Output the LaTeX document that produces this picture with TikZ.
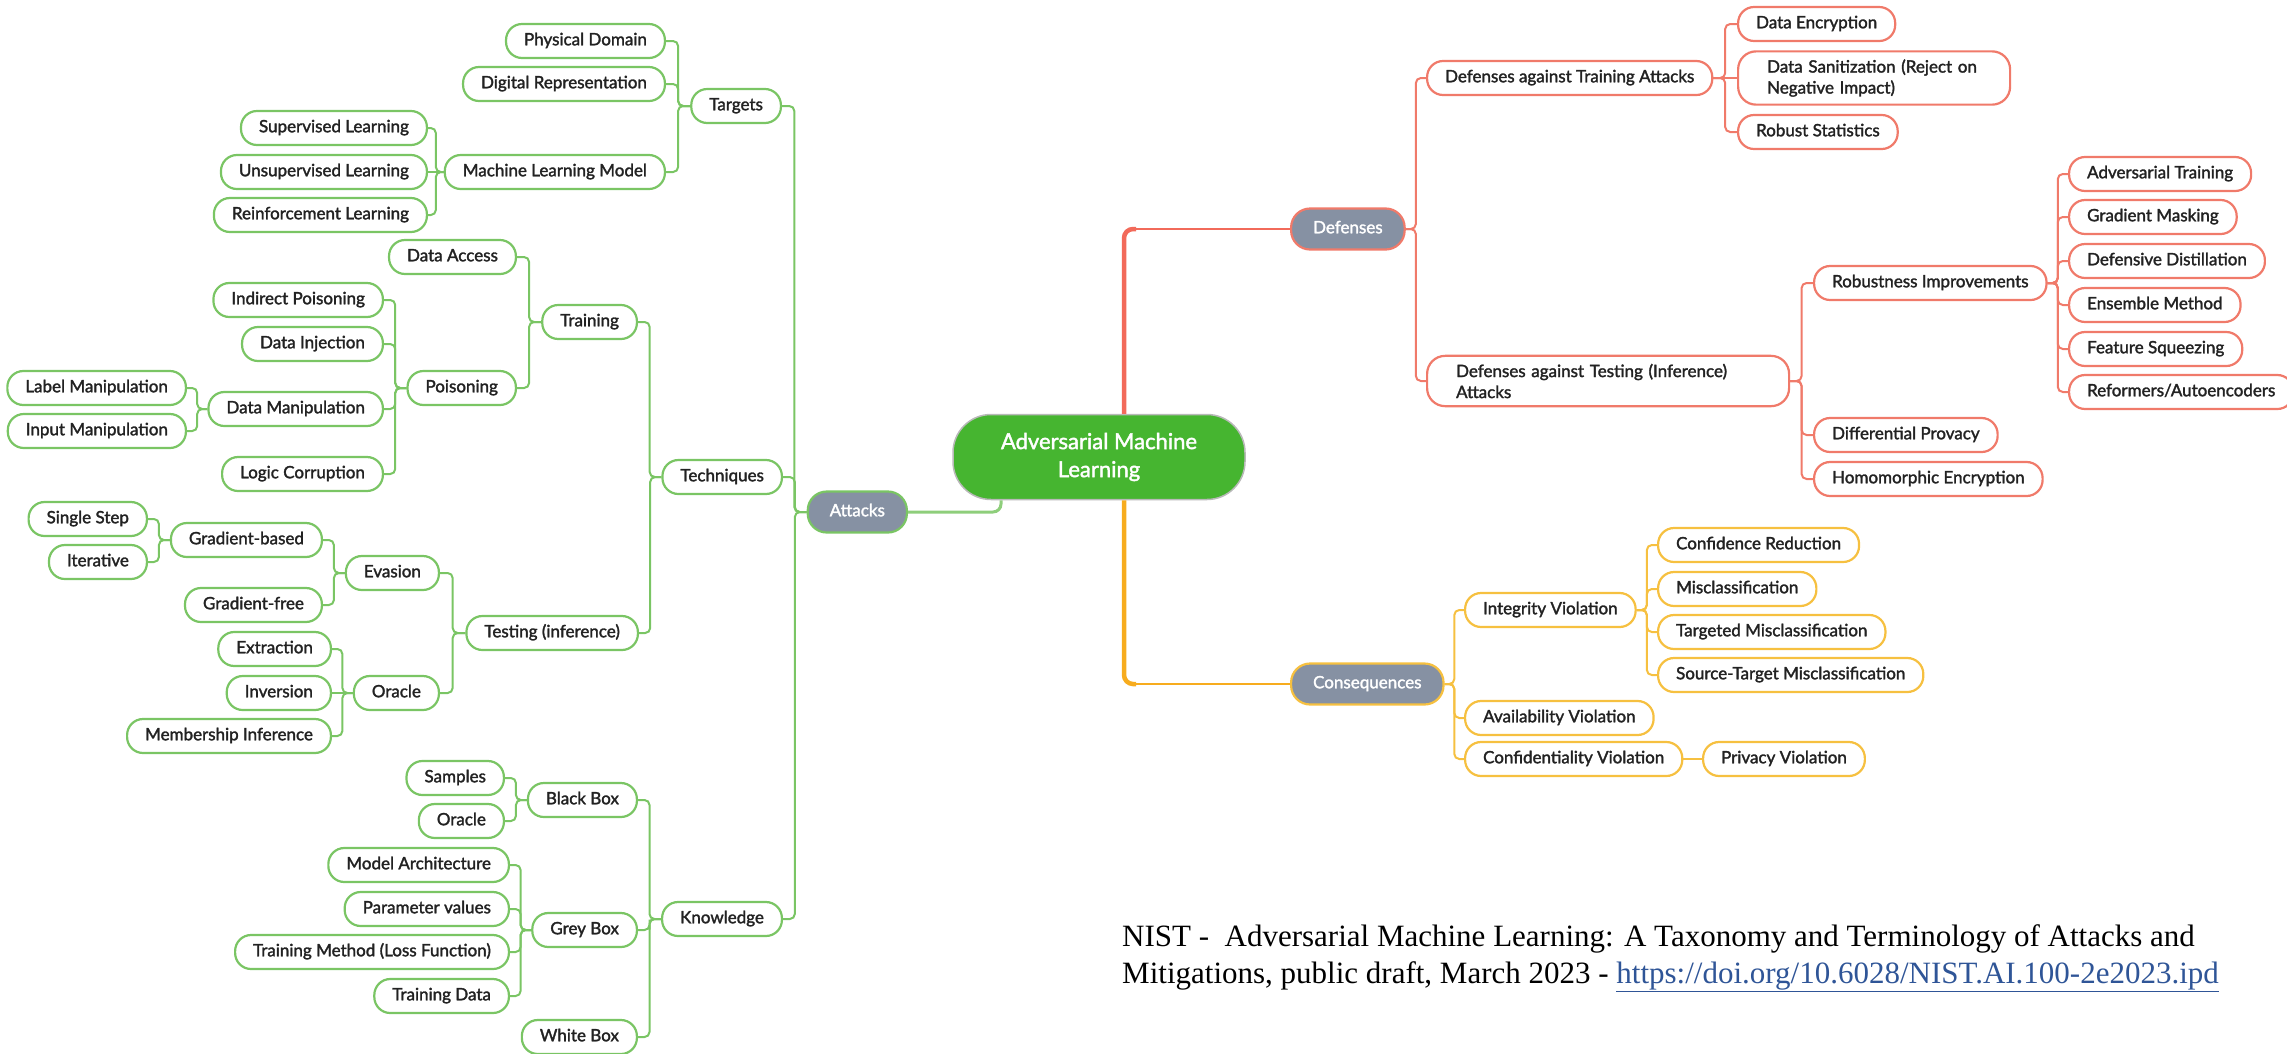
\documentclass[tikz,border=0pt]{standalone}
\usepackage{fontspec}
\setmainfont{Lato}
\newfontfamily\mmfont{Lato}[FakeBold=1.8]
\newfontfamily\nistfont{Liberation Serif}
\usepackage{tikz}
\usetikzlibrary{calc}

\definecolor{leafgreen}{RGB}{122,197,100}
\definecolor{rootgreen}{RGB}{70,181,48}
\definecolor{defred}{RGB}{240,122,106}
\definecolor{conorange}{RGB}{246,192,64}
\definecolor{mainred}{RGB}{242,106,90}
\definecolor{mainorange}{RGB}{247,172,30}
\definecolor{slate}{RGB}{134,145,163}
\definecolor{inkgrey}{RGB}{34,34,34}
\definecolor{linkblue}{RGB}{47,85,151}

\tikzset{
  leaf/.style={draw, fill=white, rounded corners=16pt, line width=2.2pt, text=inkgrey,
    font=\mmfont\fontsize{17}{21}\selectfont, inner xsep=18pt, inner ysep=0pt,
    minimum height=34pt, text height=12.5pt, text depth=4pt},
  twoline/.style={draw, fill=white, rounded corners=18pt, line width=2.2pt, text=inkgrey,
    font=\mmfont\fontsize{17}{21}\selectfont, inner xsep=29pt, inner ysep=8pt, align=left},
  hub/.style={draw, fill=slate, rounded corners=19pt, line width=2.2pt, text=white,
    font=\mmfont\fontsize{17}{21}\selectfont, inner xsep=22pt, inner ysep=0pt,
    minimum height=41pt, text height=12.5pt, text depth=4pt},
  atk/.style={leaf, draw=leafgreen, anchor=east},
  dfn/.style={leaf, draw=defred, anchor=west},
  csq/.style={leaf, draw=conorange, anchor=west},
  branch/.style={rounded corners=5pt, line width=2pt,
    to path={-| ($(\tikztostart)!.5!(\tikztotarget)$) |- (\tikztotarget)}},
  flat/.style={line width=2pt}
}

\begin{document}
\begin{tikzpicture}[x=1pt, y=-1pt]
  \useasboundingbox (0,0) rectangle (2287,1053);

  \draw (1099,457) node[draw=gray!55, fill=rootgreen, line width=1.5pt, rounded corners=38pt,
      minimum width=292pt, minimum height=85pt, text=white, align=center,
      font=\mmfont\fontsize{22}{28}\selectfont] (aml) {Adversarial Machine\\Learning};

  % attacks
  \draw (908,512) node[hub, draw=leafgreen, anchor=east] (attacks) {Attacks};
  \draw (782,106) node[atk] (targets) {Targets};
  \draw (783,477) node[atk] (techniques) {Techniques};
  \draw (783,919) node[atk] (knowledge) {Knowledge};

  \draw (666,41) node[atk] (physdom) {Physical Domain};
  \draw (666,84) node[atk] (digrep) {Digital Representation};
  \draw (666,172) node[atk] (mlmodel) {Machine Learning Model};
  \draw (428,128) node[atk] (superv) {Supervised Learning};
  \draw (428,172) node[atk] (unsuperv) {Unsupervised Learning};
  \draw (428,215) node[atk] (reinf) {Reinforcement Learning};

  \draw (638,322) node[atk] (training) {Training};
  \draw (517,257) node[atk] (dataaccess) {Data Access};
  \draw (517,388) node[atk] (poisoning) {Poisoning};
  \draw (384,300) node[atk] (indirect) {Indirect Poisoning};
  \draw (384,344) node[atk] (injection) {Data Injection};
  \draw (384,409) node[atk] (datamanip) {Data Manipulation};
  \draw (384,474) node[atk] (logic) {Logic Corruption};
  \draw (187,388) node[atk] (labelmanip) {Label Manipulation};
  \draw (187,431) node[atk] (inputmanip) {Input Manipulation};

  \draw (639,633) node[atk] (testing) {Testing (inference)};
  \draw (440,573) node[atk] (evasion) {Evasion};
  \draw (440,693) node[atk] (oracle) {Oracle};
  \draw (323,540) node[atk] (gradbased) {Gradient-based};
  \draw (323,605) node[atk] (gradfree) {Gradient-free};
  \draw (148,519) node[atk] (single) {Single Step};
  \draw (148,562) node[atk] (iterative) {Iterative};
  \draw (332,649) node[atk] (extraction) {Extraction};
  \draw (332,693) node[atk] (inversion) {Inversion};
  \draw (332,736) node[atk] (membership) {Membership Inference};

  \draw (638,800) node[atk] (blackbox) {Black Box};
  \draw (638,930) node[atk] (greybox) {Grey Box};
  \draw (638,1037) node[atk] (whitebox) {White Box};
  \draw (505,778) node[atk] (samples) {Samples};
  \draw (505,821) node[atk] (blackoracle) {Oracle};
  \draw (510,865) node[atk] (modelarch) {Model Architecture};
  \draw (510,909) node[atk] (paramval) {Parameter values};
  \draw (510,952) node[atk] (trainmethod) {Training Method (Loss Function)};
  \draw (510,996) node[atk] (traindata) {Training Data};

  % defenses
  \draw (1290,229) node[hub, draw=defred, anchor=west] (defenses) {Defenses};
  \draw (1426,78) node[dfn] (deftrain) {Defenses against Training Attacks};
  \draw (1426,381) node[twoline, draw=defred, anchor=west, text width=304pt] (deftest)
      {Defenses against Testing (Inference)\\Attacks};
  \draw (1737,24) node[dfn] (dataenc) {Data Encryption};
  \draw (1737,78) node[twoline, draw=defred, anchor=west, text width=214pt] (datasan)
      {Data Sanitization (Reject on\\Negative Impact)};
  \draw (1737,132) node[dfn] (robstat) {Robust Statistics};
  \draw (1813,283) node[dfn] (robust) {Robustness Improvements};
  \draw (1813,435) node[dfn] (diffpriv) {Differential Provacy};
  \draw (1813,479) node[dfn] (homomorphic) {Homomorphic Encryption};
  \draw (2068,174) node[dfn] (advtrain) {Adversarial Training};
  \draw (2068,217) node[dfn] (gradmask) {Gradient Masking};
  \draw (2068,261) node[dfn] (defdist) {Defensive Distillation};
  \draw (2068,305) node[dfn] (ensemble) {Ensemble Method};
  \draw (2068,349) node[dfn] (featsq) {Feature Squeezing};
  \draw (2068,392) node[dfn] (reformers) {Reformers/Autoencoders};

  % consequences
  \draw (1290,684) node[hub, draw=conorange, anchor=west] (consequences) {Consequences};
  \draw (1464,610) node[csq] (integrity) {Integrity Violation};
  \draw (1464,718) node[csq] (availability) {Availability Violation};
  \draw (1464,759) node[csq] (confidentiality) {Confidentiality Violation};
  \draw (1657,545) node[csq] (confred) {Confidence Reduction};
  \draw (1657,589) node[csq] (misclass) {Misclassification};
  \draw (1657,632) node[csq] (targeted) {Targeted Misclassification};
  \draw (1657,675) node[csq] (srctarget) {Source-Target Misclassification};
  \draw (1702,759) node[csq] (privacy) {Privacy Violation};

  \coordinate (redfoot) at ([xshift=25pt]aml.north);
  \coordinate (orangefoot) at ([xshift=25pt]aml.south);
  \coordinate (greenfoot) at ([xshift=-98pt]aml.south);
  \draw[mainred, line width=2.2pt] ($(redfoot |- defenses.west)+(10,0)$) -- (defenses.west);
  \draw[mainred, line width=4.5pt, rounded corners=9pt] (redfoot) |- ($(redfoot |- defenses.west)+(12,0)$);
  \draw[mainorange, line width=2.2pt] ($(orangefoot |- consequences.west)+(10,0)$) -- (consequences.west);
  \draw[mainorange, line width=4.5pt, rounded corners=9pt] (orangefoot) |- ($(orangefoot |- consequences.west)+(12,0)$);
  \draw[leafgreen!85, line width=3pt, rounded corners=8pt] (greenfoot) |- (attacks.east);

  \path[branch, leafgreen] (attacks.west) edge (targets.east) edge (techniques.east) edge (knowledge.east);
  \path[branch, leafgreen] (targets.west) edge (physdom.east) edge (digrep.east) edge (mlmodel.east);
  \path[branch, leafgreen] (mlmodel.west) edge (superv.east) edge (reinf.east);
  \draw[flat, leafgreen] (mlmodel.west) -- (unsuperv.east);
  \path[branch, leafgreen] (techniques.west) edge (training.east) edge (testing.east);
  \path[branch, leafgreen] (training.west) edge (dataaccess.east) edge (poisoning.east);
  \path[branch, leafgreen] (poisoning.west) edge (indirect.east) edge (injection.east)
      edge (datamanip.east) edge (logic.east);
  \path[branch, leafgreen] (datamanip.west) edge (labelmanip.east) edge (inputmanip.east);
  \path[branch, leafgreen] (testing.west) edge (evasion.east) edge (oracle.east);
  \path[branch, leafgreen] (evasion.west) edge (gradbased.east) edge (gradfree.east);
  \path[branch, leafgreen] (gradbased.west) edge (single.east) edge (iterative.east);
  \path[branch, leafgreen] (oracle.west) edge (extraction.east) edge (membership.east);
  \draw[flat, leafgreen] (oracle.west) -- (inversion.east);
  \path[branch, leafgreen] (knowledge.west) edge (blackbox.east) edge (greybox.east) edge (whitebox.east);
  \path[branch, leafgreen] (blackbox.west) edge (samples.east) edge (blackoracle.east);
  \path[branch, leafgreen] (greybox.west) edge (modelarch.east) edge (paramval.east)
      edge (trainmethod.east) edge (traindata.east);

  \path[branch, defred] (defenses.east) edge (deftrain.west) edge (deftest.west);
  \path[branch, defred] (deftrain.east) edge (dataenc.west) edge (robstat.west);
  \draw[flat, defred] (deftrain.east) -- (datasan.west);
  \path[branch, defred] (deftest.east) edge (robust.west) edge (diffpriv.west) edge (homomorphic.west);
  \path[branch, defred] (robust.east) edge (advtrain.west) edge (gradmask.west) edge (defdist.west)
      edge (ensemble.west) edge (featsq.west) edge (reformers.west);

  \path[branch, conorange] (consequences.east) edge (integrity.west) edge (availability.west)
      edge (confidentiality.west);
  \path[branch, conorange] (integrity.east) edge (confred.west) edge (misclass.west)
      edge (targeted.west) edge (srctarget.west);
  \draw[flat, conorange] (confidentiality.east) -- (privacy.west);

  \draw (1122,924) node[anchor=north west, inner sep=0pt, align=left,
      font=\nistfont\fontsize{31}{37}\selectfont] (nistref)
      {NIST - \ Adversarial Machine Learning: A Taxonomy and Terminology of Attacks and\\
       Mitigations, public draft, March 2023 - \textcolor{linkblue}{\underline{https://doi.org/10.6028/NIST.AI.100-2e2023.ipd}}};
\end{tikzpicture}
\end{document}
